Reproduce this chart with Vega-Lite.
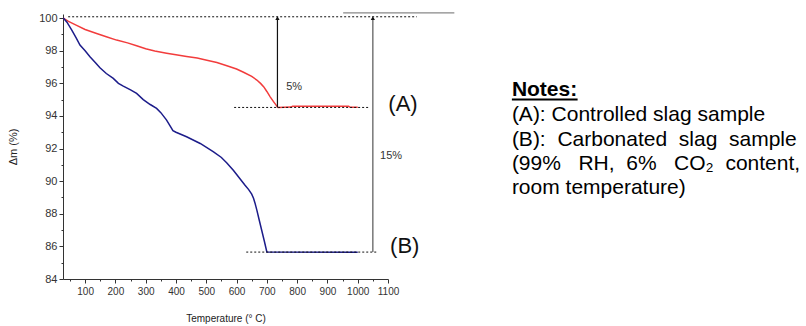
{
  "$schema": "https://vega.github.io/schema/vega-lite/v6.json",
  "width": 325,
  "height": 265,
  "autosize": "none",
  "padding": {"left": 63, "top": 14, "right": 418, "bottom": 47},
  "background": "white",
  "config": {
    "view": {"stroke": null},
    "font": "Liberation Sans",
    "axis": {"grid": false, "domainColor": "#333", "tickColor": "#333", "labelColor": "#333", "titleColor": "#222", "titleFontWeight": "normal", "labelFont": "Liberation Sans", "titleFont": "Liberation Sans", "labelOverlap": false, "labelFlush": false}
  },
  "datasets": {
    "curves": [
      {"T": 28, "v": 100, "s": "A"}, {"T": 45, "v": 99.8, "s": "A"}, {"T": 72, "v": 99.55, "s": "A"},
      {"T": 100, "v": 99.3, "s": "A"}, {"T": 138, "v": 99.05, "s": "A"}, {"T": 170, "v": 98.85, "s": "A"},
      {"T": 204, "v": 98.65, "s": "A"}, {"T": 240, "v": 98.48, "s": "A"}, {"T": 270, "v": 98.3, "s": "A"},
      {"T": 300, "v": 98.12, "s": "A"}, {"T": 330, "v": 97.98, "s": "A"}, {"T": 369, "v": 97.85, "s": "A"},
      {"T": 400, "v": 97.75, "s": "A"}, {"T": 435, "v": 97.65, "s": "A"}, {"T": 470, "v": 97.55, "s": "A"},
      {"T": 502, "v": 97.42, "s": "A"}, {"T": 535, "v": 97.28, "s": "A"}, {"T": 568, "v": 97.08, "s": "A"},
      {"T": 600, "v": 96.88, "s": "A"}, {"T": 623, "v": 96.68, "s": "A"}, {"T": 650, "v": 96.42, "s": "A"},
      {"T": 667, "v": 96.2, "s": "A"}, {"T": 680, "v": 95.98, "s": "A"}, {"T": 690, "v": 95.78, "s": "A"},
      {"T": 700, "v": 95.5, "s": "A"}, {"T": 711, "v": 95.17, "s": "A"}, {"T": 722, "v": 94.88, "s": "A"},
      {"T": 733, "v": 94.6, "s": "A"}, {"T": 737, "v": 94.52, "s": "A"}, {"T": 780, "v": 94.54, "s": "A"},
      {"T": 785, "v": 94.6, "s": "A"}, {"T": 970, "v": 94.6, "s": "A"}, {"T": 975, "v": 94.53, "s": "A"},
      {"T": 1000, "v": 94.53, "s": "A"},
      {"T": 28, "v": 100, "s": "B"}, {"T": 40, "v": 99.75, "s": "B"}, {"T": 56, "v": 99.26, "s": "B"},
      {"T": 70, "v": 98.8, "s": "B"}, {"T": 83, "v": 98.35, "s": "B"}, {"T": 100, "v": 98.0, "s": "B"},
      {"T": 116, "v": 97.63, "s": "B"}, {"T": 135, "v": 97.25, "s": "B"}, {"T": 149, "v": 96.95, "s": "B"},
      {"T": 170, "v": 96.6, "s": "B"}, {"T": 193, "v": 96.3, "s": "B"}, {"T": 210, "v": 96.0, "s": "B"},
      {"T": 226, "v": 95.83, "s": "B"}, {"T": 250, "v": 95.6, "s": "B"}, {"T": 270, "v": 95.38, "s": "B"},
      {"T": 292, "v": 95.0, "s": "B"}, {"T": 315, "v": 94.7, "s": "B"}, {"T": 336, "v": 94.46, "s": "B"},
      {"T": 350, "v": 94.2, "s": "B"}, {"T": 369, "v": 93.74, "s": "B"}, {"T": 380, "v": 93.4, "s": "B"},
      {"T": 390, "v": 93.1, "s": "B"}, {"T": 400, "v": 93.0, "s": "B"}, {"T": 435, "v": 92.72, "s": "B"},
      {"T": 480, "v": 92.31, "s": "B"}, {"T": 524, "v": 91.8, "s": "B"}, {"T": 550, "v": 91.45, "s": "B"},
      {"T": 568, "v": 91.12, "s": "B"}, {"T": 590, "v": 90.65, "s": "B"}, {"T": 610, "v": 90.18, "s": "B"},
      {"T": 628, "v": 89.75, "s": "B"}, {"T": 640, "v": 89.48, "s": "B"}, {"T": 650, "v": 89.2, "s": "B"},
      {"T": 656, "v": 88.95, "s": "B"}, {"T": 661, "v": 88.65, "s": "B"}, {"T": 667, "v": 88.22, "s": "B"},
      {"T": 675, "v": 87.6, "s": "B"}, {"T": 683, "v": 86.99, "s": "B"}, {"T": 692, "v": 86.3, "s": "B"},
      {"T": 700, "v": 85.66, "s": "B"}, {"T": 1000, "v": 85.64, "s": "B"}
    ],
    "dotted": [
      {"T": 44, "T2": 1195, "v": 100.08},
      {"T": 592, "T2": 1035, "v": 94.52},
      {"T": 632, "T2": 1065, "v": 85.65}
    ],
    "arrows": [
      {"id": "A", "T": 735, "v": 94.52, "v2": 100.0},
      {"id": "B", "T": 1050, "v": 85.65, "v2": 100.0}
    ],
    "labels": [
      {"kind": "small", "T": 764, "v": 95.76, "text": "5%"},
      {"kind": "small", "T": 1074, "v": 91.53, "text": "15%"},
      {"kind": "big", "T": 1101, "v": 94.73, "text": "(A)"},
      {"kind": "big", "T": 1107, "v": 86.02, "text": "(B)"},
      {"kind": "head", "T": 1509, "v": 95.59, "text": "Notes:"},
      {"kind": "note", "T": 1509, "v": 94.06, "text": "(A): Controlled slag sample"},
      {"kind": "note", "T": 1509, "v": 92.52, "text": "(B):\u00a0 Carbonated\u00a0 slag\u00a0 sample"},
      {"kind": "note", "T": 1509, "v": 91.05, "text": "(99%\u00a0\u00a0 RH,\u00a0 6%\u00a0\u00a0 CO₂\u00a0 content,"},
      {"kind": "note", "T": 1509, "v": 89.58, "text": "room temperature)"}
    ],
    "extra": [
      {"T": 952, "T2": 1319, "v": 100.32},
      {"T": 1509, "T2": 1726, "v": 95.0}
    ]
  },
  "resolve": {"axis": {"x": "independent", "y": "independent"}},
  "layer": [
    {
      "data": {"name": "curves"},
      "mark": {"type": "line", "strokeWidth": 1.5, "clip": false},
      "encoding": {
        "x": {"field": "T", "type": "quantitative",
              "scale": {"domain": [27, 1100], "nice": false, "zero": false},
              "axis": {"values": [100, 200, 300, 400, 500, 600, 700, 800, 900, 1000, 1100], "format": "d", "title": "Temperature (° C)", "titleFontSize": 10, "titlePadding": 17, "labelFontSize": 10, "tickSize": 4, "labelPadding": 3, "labelFlush": false, "orient": "bottom"}},
        "y": {"field": "v", "type": "quantitative",
              "scale": {"domain": [84, 100.25], "nice": false, "zero": false},
              "axis": {"values": [84, 86, 88, 90, 92, 94, 96, 98, 100], "title": "Δm (%)", "titleFontSize": 11, "titlePadding": 20, "labelFontSize": 11, "tickSize": 4, "labelPadding": 2, "labelFlush": false, "orient": "left"}},
        "color": {"field": "s", "type": "nominal", "scale": {"domain": ["A", "B"], "range": ["#f23c3c", "#1c1c8a"]}, "legend": null}
      }
    },
    {
      "data": {"values": [{"m": 50}, {"m": 150}, {"m": 250}, {"m": 350}, {"m": 450}, {"m": 550}, {"m": 650}, {"m": 750}, {"m": 850}, {"m": 950}, {"m": 1050}]},
      "mark": {"type": "tick", "opacity": 0},
      "encoding": {
        "x": {"field": "m", "type": "quantitative",
              "axis": {"values": [50, 150, 250, 350, 450, 550, 650, 750, 850, 950, 1050], "labels": false, "domain": false, "title": null, "tickSize": 2, "orient": "bottom"}}
      }
    },
    {
      "data": {"values": [{"n": 85}, {"n": 87}, {"n": 89}, {"n": 91}, {"n": 93}, {"n": 95}, {"n": 97}, {"n": 99}]},
      "mark": {"type": "tick", "opacity": 0},
      "encoding": {
        "y": {"field": "n", "type": "quantitative",
              "axis": {"values": [85, 87, 89, 91, 93, 95, 97, 99], "labels": false, "domain": false, "title": null, "tickSize": 2, "orient": "left"}}
      }
    },
    {
      "data": {"name": "dotted"},
      "mark": {"type": "rule", "strokeDash": [2, 2], "color": "#111", "strokeWidth": 1, "clip": false},
      "encoding": {
        "x": {"field": "T", "type": "quantitative", "axis": null},
        "x2": {"field": "T2"},
        "y": {"field": "v", "type": "quantitative", "axis": null}
      }
    },
    {
      "data": {"name": "extra"},
      "mark": {"type": "rule", "color": "#888", "strokeWidth": 1.2, "clip": false},
      "transform": [{"filter": "datum.T < 1500"}],
      "encoding": {
        "x": {"field": "T", "type": "quantitative", "axis": null},
        "x2": {"field": "T2"},
        "y": {"field": "v", "type": "quantitative", "axis": null}
      }
    },
    {
      "data": {"name": "extra"},
      "mark": {"type": "rule", "color": "#000", "strokeWidth": 2, "clip": false},
      "transform": [{"filter": "datum.T > 1500"}],
      "encoding": {
        "x": {"field": "T", "type": "quantitative", "axis": null},
        "x2": {"field": "T2"},
        "y": {"field": "v", "type": "quantitative", "axis": null}
      }
    },
    {
      "data": {"name": "arrows"},
      "transform": [{"filter": "datum.id == 'A'"}],
      "mark": {"type": "rule", "strokeWidth": 1.2, "color": "#111", "clip": false},
      "encoding": {
        "x": {"field": "T", "type": "quantitative", "axis": null},
        "y": {"field": "v", "type": "quantitative", "axis": null},
        "y2": {"field": "v2"}
      }
    },
    {
      "data": {"name": "arrows"},
      "transform": [{"filter": "datum.id == 'B'"}],
      "mark": {"type": "rule", "strokeWidth": 1.2, "color": "#555", "clip": false},
      "encoding": {
        "x": {"field": "T", "type": "quantitative", "axis": null},
        "y": {"field": "v", "type": "quantitative", "axis": null},
        "y2": {"field": "v2"}
      }
    },
    {
      "data": {"name": "arrows"},
      "mark": {"type": "point", "shape": "triangle-up", "filled": true, "size": 18, "opacity": 1, "color": "#111", "clip": false},
      "encoding": {
        "x": {"field": "T", "type": "quantitative", "axis": null},
        "y": {"field": "v2", "type": "quantitative", "axis": null}
      }
    },
    {
      "data": {"name": "labels"},
      "transform": [{"filter": "datum.kind == 'small'"}],
      "mark": {"type": "text", "align": "left", "baseline": "middle", "fontSize": 11, "color": "#333", "clip": false},
      "encoding": {
        "x": {"field": "T", "type": "quantitative", "axis": null},
        "y": {"field": "v", "type": "quantitative", "axis": null},
        "text": {"field": "text"}
      }
    },
    {
      "data": {"name": "labels"},
      "transform": [{"filter": "datum.kind == 'big'"}],
      "mark": {"type": "text", "align": "left", "baseline": "middle", "fontSize": 22, "color": "#111", "clip": false},
      "encoding": {
        "x": {"field": "T", "type": "quantitative", "axis": null},
        "y": {"field": "v", "type": "quantitative", "axis": null},
        "text": {"field": "text"}
      }
    },
    {
      "data": {"name": "labels"},
      "transform": [{"filter": "datum.kind == 'head'"}],
      "mark": {"type": "text", "align": "left", "baseline": "middle", "fontSize": 21, "fontWeight": "bold", "color": "#000", "clip": false},
      "encoding": {
        "x": {"field": "T", "type": "quantitative", "axis": null},
        "y": {"field": "v", "type": "quantitative", "axis": null},
        "text": {"field": "text"}
      }
    },
    {
      "data": {"name": "labels"},
      "transform": [{"filter": "datum.kind == 'note'"}],
      "mark": {"type": "text", "align": "left", "baseline": "middle", "fontSize": 21, "color": "#000", "clip": false},
      "encoding": {
        "x": {"field": "T", "type": "quantitative", "axis": null},
        "y": {"field": "v", "type": "quantitative", "axis": null},
        "text": {"field": "text"}
      }
    }
  ]
}
